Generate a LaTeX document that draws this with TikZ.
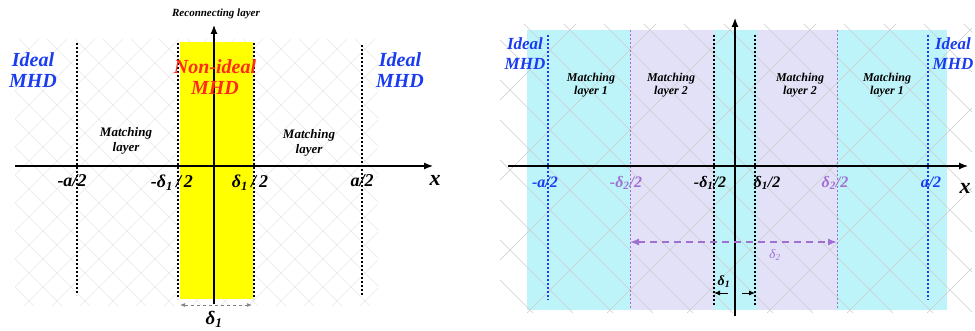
\documentclass[tikz,border=0pt]{standalone}
\usepackage{fontspec}
\setmainfont{Liberation Serif}
\usetikzlibrary{arrows.meta,positioning}
\definecolor{idealblue}{HTML}{1A3CF0}
\definecolor{nonidealred}{HTML}{FF2A1A}
\definecolor{layeryellow}{HTML}{FFFF00}
\definecolor{layercyan}{HTML}{BDF4FA}
\definecolor{layerlav}{HTML}{E3E1F8}
\definecolor{deltapurple}{HTML}{A070D0}
\tikzset{
  lbl/.style={font=\bfseries\itshape, align=center, inner sep=0pt},
  bound/.style={line width=1.4pt, dash pattern=on 2pt off 2pt},
  axisline/.style={line width=1.2pt, -{Latex[length=9pt,width=7pt]}},
  hatchfaint/.style={gray!18, line width=0.5pt},
  hatchgrey/.style={gray!40, line width=0.5pt}
}

\begin{document}
\begin{tikzpicture}[x=1pt,y=-1pt,>=Latex]
\useasboundingbox (0,0) rectangle (975,331);

% left panel: hatch, then the reconnecting layer
\begin{scope}
  \clip (15,40) rectangle (378,305);
  \foreach \k in {-300,-272,...,400} {
    \draw[hatchfaint] (\k,0) -- ++(350,350);
    \draw[hatchfaint] (\k,350) -- ++(350,-350);
  }
\end{scope}
\fill[layeryellow] (180,42) rectangle (253,299);

\draw[bound] (77,43) -- (77,295);
\draw[bound] (178,43) -- (178,299);
\draw[bound] (254,43) -- (254,299);
\draw[bound] (362,45) -- (362,295);

\coordinate (Lx0) at (15,166);
\coordinate (Lx1) at (433,166);
\coordinate (Ly0) at (214,304);
\coordinate (Ly1) at (214,25);
\draw[axisline] (Lx0) -- (Lx1);
\draw[axisline] (Ly0) -- (Ly1);
\node[lbl, font=\fontsize{11}{12}\selectfont\bfseries\itshape] (recon) at (216,14) {Reconnecting layer};
\node[lbl, font=\fontsize{22}{22}\selectfont\bfseries\itshape] (Lxlab) at (435,180) {x};

\node[lbl, text=idealblue, font=\fontsize{20}{21}\selectfont\bfseries\itshape] (Lideal) at (33,70) {Ideal\\MHD};
\node[lbl, text=idealblue, font=\fontsize{20}{21}\selectfont\bfseries\itshape] (Rideal0) at (400,70) {Ideal\\MHD};
\node[lbl, text=nonidealred, font=\fontsize{20}{21}\selectfont\bfseries\itshape] (nonideal) at (215,77) {Non-ideal\\MHD};
\node[lbl, font=\fontsize{13}{15}\selectfont\bfseries\itshape] (Lmatch) at (126,141) {Matching\\layer};
\node[lbl, font=\fontsize{13}{15}\selectfont\bfseries\itshape] (Rmatch) at (309,143) {Matching\\layer};

\node[lbl, font=\fontsize{18}{18}\selectfont\bfseries\itshape] (Lma) at (72,181) {-a/2};
\node[lbl, font=\fontsize{18}{18}\selectfont\bfseries\itshape] (Lmd) at (172,183) {-δ\textsubscript{1}\,/\,2};
\node[lbl, font=\fontsize{18}{18}\selectfont\bfseries\itshape] (Lpd) at (250,183) {δ\textsubscript{1}\,/\,2};
\node[lbl, font=\fontsize{18}{18}\selectfont\bfseries\itshape] (Lpa) at (362,181) {a/2};

\coordinate (Ld0) at (180,305);
\coordinate (Ld1) at (252,305);
\draw[gray, dashed, line width=0.6pt, {Latex[length=5pt]}-{Latex[length=5pt]}] (Ld0) -- (Ld1);
\node[lbl, font=\fontsize{19}{19}\selectfont\bfseries\itshape] (Ldel) at (214,319) {δ\textsubscript{1}};

% right panel: layers, then hatch on top
\fill[layercyan] (527,30) rectangle (947,310);
\fill[layerlav] (630,30) rectangle (714,310);
\fill[layerlav] (757,30) rectangle (837,310);
\begin{scope}
  \clip (500,25) rectangle (972,312);
  \foreach \k in {100,140,...,980} {
    \draw[hatchgrey] (\k,0) -- ++(350,350);
  }
  \foreach \k in {520,600,...,1300} {
    \draw[hatchgrey] (\k,0) -- ++(-350,350);
  }
\end{scope}

\draw[bound, idealblue] (548,35) -- (548,300);
\draw[bound, deltapurple, line width=1pt] (630,30) -- (630,310);
\draw[bound] (714,35) -- (714,305);
\draw[bound] (755,35) -- (755,305);
\draw[bound, deltapurple, line width=1pt] (837,30) -- (837,310);
\draw[bound, idealblue] (928,35) -- (928,300);

\coordinate (Rx0) at (508,166);
\coordinate (Rx1) at (968,166);
\coordinate (Ry0) at (735,316);
\coordinate (Ry1) at (735,18);
\draw[axisline] (Rx0) -- (Rx1);
\draw[axisline] (Ry0) -- (Ry1);
\node[lbl, font=\fontsize{22}{22}\selectfont\bfseries\itshape] (Rxlab) at (965,188) {x};

\node[lbl, text=idealblue, font=\fontsize{17}{20}\selectfont\bfseries\itshape] (RLideal) at (525,54) {Ideal\\MHD};
\node[lbl, text=idealblue, font=\fontsize{17}{20}\selectfont\bfseries\itshape] (RRideal) at (953,54) {Ideal\\MHD};
\node[lbl, font=\fontsize{12}{13}\selectfont\bfseries\itshape] (m1l) at (591,85) {Matching\\layer 1};
\node[lbl, font=\fontsize{12}{13}\selectfont\bfseries\itshape] (m2l) at (671,85) {Matching\\layer 2};
\node[lbl, font=\fontsize{12}{13}\selectfont\bfseries\itshape] (m2r) at (800,85) {Matching\\layer 2};
\node[lbl, font=\fontsize{12}{13}\selectfont\bfseries\itshape] (m1r) at (887,85) {Matching\\layer 1};

\node[lbl, text=idealblue, font=\fontsize{16}{16}\selectfont\bfseries\itshape] (Rma) at (545,182) {-a/2};
\node[lbl, text=deltapurple, font=\fontsize{16}{16}\selectfont\bfseries\itshape] (Rm2) at (626,183) {-δ\textsubscript{2}/2};
\node[lbl, font=\fontsize{16}{16}\selectfont\bfseries\itshape] (Rm1) at (710,183) {-δ\textsubscript{1}/2};
\node[lbl, font=\fontsize{16}{16}\selectfont\bfseries\itshape] (Rp1) at (767,183) {δ\textsubscript{1}/2};
\node[lbl, text=deltapurple, font=\fontsize{16}{16}\selectfont\bfseries\itshape] (Rp2) at (835,183) {δ\textsubscript{2}/2};
\node[lbl, text=idealblue, font=\fontsize{16}{16}\selectfont\bfseries\itshape] (Rpa) at (931,182) {a/2};

\coordinate (d2a) at (630,242);
\coordinate (d2b) at (837,242);
\draw[deltapurple, line width=1.4pt, dash pattern=on 7pt off 5pt, {Latex[length=9pt,width=7pt]}-{Latex[length=9pt,width=7pt]}] (d2a) -- (d2b);
\node[lbl, text=deltapurple, font=\fontsize{13}{13}\selectfont\itshape] (d2lab) at (775,255) {δ\textsubscript{2}};

\coordinate (d1a) at (728,293);
\coordinate (d1b) at (714,293);
\coordinate (d1c) at (742,293);
\coordinate (d1d) at (755,293);
\draw[line width=0.9pt, -{Latex[length=6pt,width=5pt]}] (d1a) -- (d1b);
\draw[line width=0.9pt, -{Latex[length=6pt,width=5pt]}] (d1c) -- (d1d);
\node[lbl, font=\fontsize{14}{14}\selectfont\bfseries\itshape] (d1lab) at (724,282) {δ\textsubscript{1}};
\end{tikzpicture}
\end{document}
